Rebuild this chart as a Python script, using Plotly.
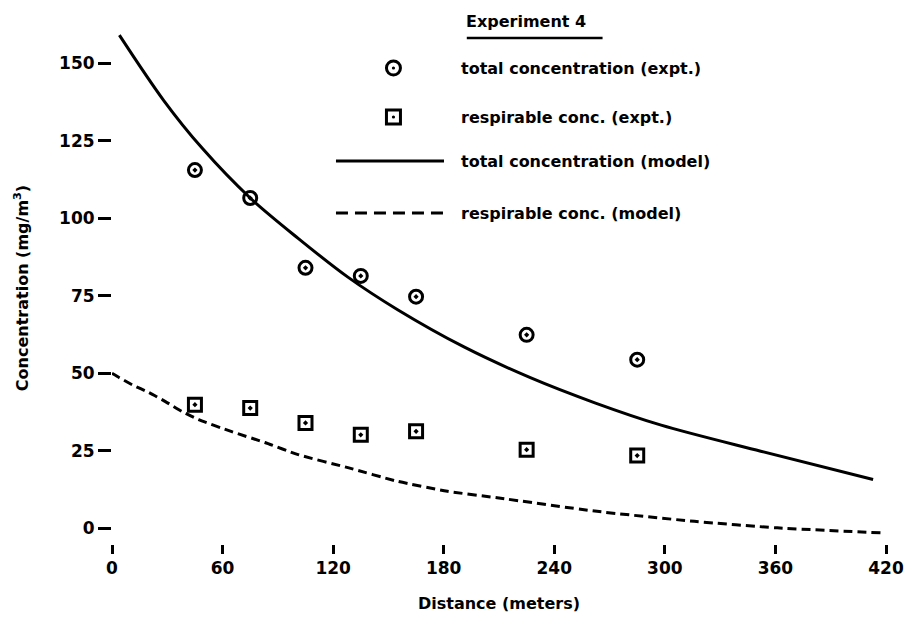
import plotly.graph_objects as go

# ---------------- data ----------------
distance_expt = [45, 75, 105, 135, 165, 225, 285]
total_conc_expt = [115.5, 106.5, 84.0, 81.4, 74.7, 62.4, 54.4]
resp_conc_expt = [39.9, 38.8, 34.0, 30.2, 31.3, 25.4, 23.5]

total_model_x = [4, 28, 49, 75, 101, 128, 155, 191, 227, 262, 298, 352, 413]
total_model_y = [159, 138, 122.5, 106.5, 93.5, 81, 70.5, 58.5, 48.6, 40.5, 33.3, 24.9, 15.8]

resp_model_x = [0, 4, 11, 20, 29, 38, 47, 65, 83, 101, 128, 155, 182, 209, 262, 316, 361, 417]
resp_model_y = [50, 48.6, 46.3, 43.8, 40.9, 37.7, 35.1, 31.2, 27.7, 23.8, 19.6, 15.2, 12.0, 9.9, 5.6, 2.3, 0.2, -1.4]

x_ticks = [0, 60, 120, 180, 240, 300, 360, 420]
y_ticks = [0, 25, 50, 75, 100, 125, 150]

legend_title = "Experiment 4"
legend_labels = [
    "total concentration (expt.)",
    "respirable conc. (expt.)",
    "total concentration (model)",
    "respirable conc. (model)",
]

# ---------------- figure ----------------
FONT = "DejaVu Sans, Liberation Sans, Arial, sans-serif"
W, H = 916, 626
ML, MR, MT, MB = 112, 23, 32, 82
PW, PH = W - ML - MR, H - MT - MB


def px_x(px):
    return (px - ML) / PW


def px_y(py):
    return (MT + PH - py) / PH


fig = go.Figure()

fig.add_trace(go.Scatter(
    x=total_model_x, y=total_model_y, mode="lines",
    line=dict(color="black", width=3, shape="spline", smoothing=0.9),
    name=legend_labels[2], hoverinfo="skip"))

fig.add_trace(go.Scatter(
    x=resp_model_x, y=resp_model_y, mode="lines",
    line=dict(color="black", width=3, dash="9px,5px", shape="spline", smoothing=0.6),
    name=legend_labels[3], hoverinfo="skip"))

fig.add_trace(go.Scatter(
    x=distance_expt, y=total_conc_expt, mode="markers",
    marker=dict(symbol="circle-open-dot", size=13, color="black",
                line=dict(color="black", width=3)),
    name=legend_labels[0]))

fig.add_trace(go.Scatter(
    x=distance_expt, y=resp_conc_expt, mode="markers",
    marker=dict(symbol="square-open-dot", size=13, color="black",
                line=dict(color="black", width=3)),
    name=legend_labels[1]))

# ---------------- manual legend ----------------
shapes = []
annotations = []

annotations.append(dict(
    text=legend_title, xref="paper", yref="paper", x=px_x(467), y=px_y(21),
    xanchor="left", yanchor="middle", showarrow=False,
    font=dict(family=FONT, size=16, color="black", weight="bold")))
shapes.append(dict(type="line", xref="paper", yref="paper",
                   x0=px_x(470), x1=px_x(607), y0=px_y(38), y1=px_y(38),
                   line=dict(color="black", width=2.5)))

rows_y = [68, 117, 161, 213]
text_x = 462
marker_cx = 396

shapes.append(dict(type="circle", xref="paper", yref="paper",
                   xsizemode="pixel", ysizemode="pixel",
                   xanchor=px_x(marker_cx), yanchor=px_y(rows_y[0]),
                   x0=-7, x1=7, y0=-7, y1=7,
                   line=dict(color="black", width=3)))
shapes.append(dict(type="circle", xref="paper", yref="paper",
                   xsizemode="pixel", ysizemode="pixel",
                   xanchor=px_x(marker_cx), yanchor=px_y(rows_y[0]),
                   x0=-1.6, x1=1.6, y0=-1.6, y1=1.6,
                   fillcolor="black", line=dict(color="black", width=0)))
shapes.append(dict(type="rect", xref="paper", yref="paper",
                   xsizemode="pixel", ysizemode="pixel",
                   xanchor=px_x(marker_cx), yanchor=px_y(rows_y[1]),
                   x0=-7, x1=7, y0=-7, y1=7,
                   line=dict(color="black", width=3)))
shapes.append(dict(type="circle", xref="paper", yref="paper",
                   xsizemode="pixel", ysizemode="pixel",
                   xanchor=px_x(marker_cx), yanchor=px_y(rows_y[1]),
                   x0=-1.6, x1=1.6, y0=-1.6, y1=1.6,
                   fillcolor="black", line=dict(color="black", width=0)))
shapes.append(dict(type="line", xref="paper", yref="paper",
                   x0=px_x(338), x1=px_x(447), y0=px_y(rows_y[2]), y1=px_y(rows_y[2]),
                   line=dict(color="black", width=3)))
shapes.append(dict(type="line", xref="paper", yref="paper",
                   x0=px_x(338), x1=px_x(447), y0=px_y(rows_y[3]), y1=px_y(rows_y[3]),
                   line=dict(color="black", width=3, dash="12px,7px")))

for label, ry in zip(legend_labels, rows_y):
    annotations.append(dict(
        text=label, xref="paper", yref="paper", x=px_x(text_x), y=px_y(ry),
        xanchor="left", yanchor="middle", showarrow=False,
        font=dict(family=FONT, size=16, color="black", weight="bold")))

fig.update_layout(
    width=W, height=H, autosize=False,
    margin=dict(l=ML, r=MR, t=MT, b=MB, pad=0),
    paper_bgcolor="white", plot_bgcolor="white",
    showlegend=False,
    shapes=shapes, annotations=annotations,
    font=dict(family=FONT, color="black"),
)

fig.update_xaxes(
    range=[0, 420], tickvals=x_ticks, ticktext=[str(v) for v in x_ticks],
    showgrid=False, zeroline=False, showline=False,
    ticks="outside", ticklen=9, tickwidth=2.5, tickcolor="black",
    tickfont=dict(family=FONT, size=17, color="black", weight="bold"),
    title=dict(text="Distance (meters)", standoff=20,
               font=dict(family=FONT, size=16, color="black", weight="bold")),
)
fig.update_yaxes(
    range=[-5, 160], tickvals=y_ticks, ticktext=[str(v) for v in y_ticks],
    showgrid=False, zeroline=False, showline=False,
    ticks="outside", ticklen=13, tickwidth=3, tickcolor="black",
    tickfont=dict(family=FONT, size=17, color="black", weight="bold"),
    title=dict(text="Concentration (mg/m<sup>3</sup>)", standoff=26,
               font=dict(family=FONT, size=16, color="black", weight="bold")),
)

fig.write_html(
    "out.html",
    config={"displayModeBar": False},
    post_script="document.body.style.margin='0px';document.body.style.overflow='hidden';",
)
